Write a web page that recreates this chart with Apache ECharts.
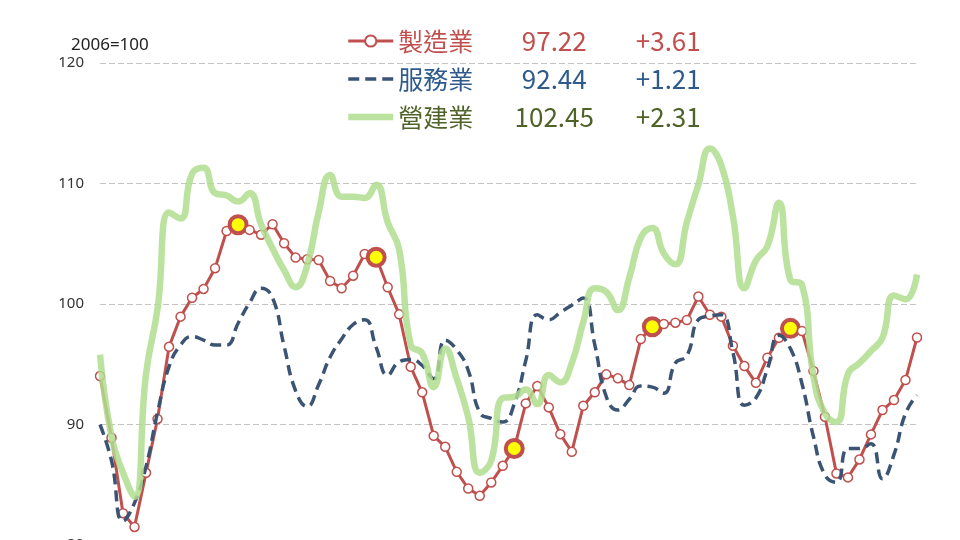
<!DOCTYPE html>
<html><head><meta charset="utf-8">
<script src="https://cdn.jsdelivr.net/npm/echarts@6/dist/echarts.min.js"></script>
<style>html,body{margin:0;padding:0;background:#fff}#c{width:960px;height:540px}</style>
</head><body><div id="c"></div>
<script>
const seriesNames = ['製造業', '服務業', '營建業'];
const latestValues = ['97.22', '92.44', '102.45'];
const changes = ['+3.61', '+1.21', '+2.31'];
const yTicks = [80, 90, 100, 110, 120];
const months = Array.from({length: 72}, (_, i) => String(i + 1));
const highlightIdx = [12, 24, 36, 48, 60];

const manufacturing = [94.02,88.90,82.64,81.50,85.99,90.46,96.45,98.95,100.52,101.25,102.97,106.06,
  106.58,106.15,105.75,106.62,105.04,103.85,103.71,103.65,101.91,101.30,102.35,104.15,
  103.88,101.39,99.14,94.79,92.67,89.06,88.15,86.07,84.69,84.08,85.19,86.57,
  88.01,91.75,93.19,91.42,89.20,87.73,91.55,92.67,94.16,93.83,93.27,97.09,
  98.11,98.34,98.45,98.67,100.62,99.11,98.95,96.54,94.85,93.46,95.54,97.20,
  97.98,97.76,94.44,90.64,85.94,85.61,87.10,89.18,91.20,92.03,93.69,97.22];
const services = [90.0,87.0,82.0,83.5,86.5,91.0,94.8,96.6,97.3,97.0,96.6,96.6,
  98.4,100.1,101.3,100.5,96.5,92.8,91.5,93.3,95.6,97.1,98.3,98.7,
  96.4,94.1,95.2,95.4,94.9,93.8,97.0,96.2,94.5,91.0,90.5,90.2,
  91.7,95.3,99.1,98.7,99.3,99.9,100.5,96.6,92.3,91.2,92.1,93.2,
  93.1,92.6,95.1,95.7,98.7,99.0,99.1,96.0,91.6,92.2,94.6,97.4,
  96.3,93.4,89.0,85.8,85.2,88.0,88.0,88.4,85.5,87.5,90.9,92.44];
const construction = [95.8,89.0,86.0,84.0,94.2,99.6,107.6,107.1,110.8,111.3,109.2,109.0,
  108.5,109.2,106.6,104.6,102.8,101.4,103.2,107.6,110.7,108.9,108.9,108.8,
  109.9,106.8,104.5,96.6,95.9,93.1,96.3,93.8,90.6,86.0,87.0,92.2,
  92.3,92.9,91.7,94.1,93.5,95.1,98.5,101.3,101.0,99.5,102.2,105.5,
  106.3,104.2,103.3,106.8,109.9,112.9,111.5,107.3,101.3,103.6,104.8,108.4,
  102.0,101.6,94.0,90.9,90.2,94.2,95.1,96.1,97.2,100.7,100.4,102.45];

const colors = ['#c0504d', '#3b5473', '#b0dd8f'];
const textColors = ['#c0504d', '#2f5b8c', '#4f6228'];
const lineWidths = [3, 3.5, 6.5];

const chart = echarts.init(document.getElementById('c'), null, {renderer: 'canvas'});
const rich = {};
seriesNames.forEach((n, i) => {
  rich['n' + i] = {fontSize: 25, color: textColors[i], width: 78, fontFamily: 'Noto Sans CJK TC'};
  rich['v' + i] = {fontSize: 26, color: textColors[i], width: 156, align: 'center', fontFamily: 'Noto Sans CJK TC'};
  rich['d' + i] = {fontSize: 26, color: textColors[i], width: 72, align: 'center', fontFamily: 'Noto Sans CJK TC'};
});

const mfgData = manufacturing.map((v, i) => highlightIdx.includes(i)
  ? {value: v, symbolSize: 17, itemStyle: {color: '#ffff00', borderColor: '#c0504d', borderWidth: 4}}
  : v);

chart.setOption({
  animation: false,
  title: {text: '2006=100', left: 66, top: 32, textStyle: {fontSize: 17, fontWeight: 'normal', color: '#222', fontFamily: 'Noto Sans'}},
  legend: {
    orient: 'vertical', left: 340, top: 23, itemWidth: 45, itemHeight: 14, itemGap: 12,
    data: seriesNames.map((n, i) => ({
      name: n,
      textStyle: {rich: rich},
      lineStyle: {width: lineWidths[i]},
      itemStyle: i === 0 ? {} : {opacity: 0}
    })),
    formatter: function (name) {
      const i = seriesNames.indexOf(name);
      return '{n' + i + '|' + name + '}{v' + i + '|' + latestValues[i] + '}{d' + i + '|' + changes[i] + '}';
    },
    textStyle: {rich: rich}
  },
  grid: {left: 100, right: 43, top: 63, height: 482, outerBoundsMode: 'none', containLabel: false},
  xAxis: {type: 'category', data: months, boundaryGap: false, show: false},
  yAxis: {
    type: 'value', min: yTicks[0], max: yTicks[yTicks.length - 1], interval: 10,
    axisLine: {show: false}, axisTick: {show: false},
    axisLabel: {fontSize: 15, color: '#333', margin: 16, fontFamily: 'Noto Sans'},
    splitLine: {lineStyle: {type: [6, 3], color: '#c4c4c4', width: 1}}
  },
  series: [
    {name: seriesNames[0], type: 'line', data: mfgData, z: 2,
      symbol: 'circle', symbolSize: 9, showAllSymbol: true,
      lineStyle: {color: colors[0], width: lineWidths[0]},
      itemStyle: {color: '#ffffff', borderColor: colors[0], borderWidth: 1.5}},
    {name: seriesNames[1], type: 'line', data: services, z: 3, smooth: 0.5,
      symbol: 'none',
      lineStyle: {color: colors[1], width: lineWidths[1], type: [11, 6]},
      itemStyle: {color: colors[1]}},
    {name: seriesNames[2], type: 'line', data: construction, z: 4, smooth: 0.5,
      symbol: 'none',
      lineStyle: {color: colors[2], width: lineWidths[2], opacity: 0.85},
      itemStyle: {color: colors[2]}}
  ]
});
</script></body></html>
